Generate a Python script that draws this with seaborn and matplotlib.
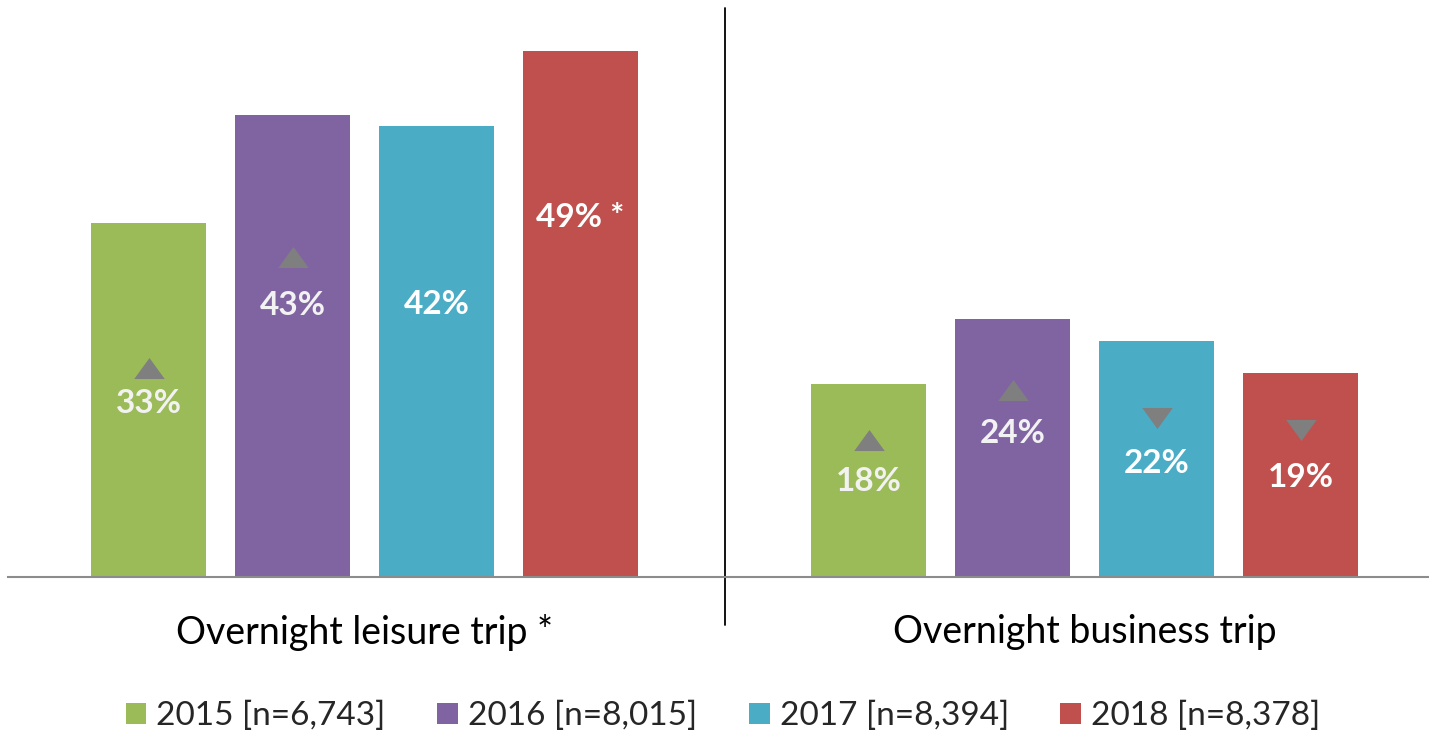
import matplotlib
matplotlib.use("Agg")
import matplotlib.pyplot as plt
import seaborn as sns
import pandas as pd
from matplotlib.patches import Patch

# ---- data ----
trips = ["Overnight leisure trip *", "Overnight business trip"]
years = ["2015 [n=6,743]", "2016 [n=8,015]", "2017 [n=8,394]", "2018 [n=8,378]"]
colors = ["#9BBB59", "#8064A2", "#4BACC6", "#C0504D"]
leisure = [33, 43, 42, 49]
business = [18, 24, 22, 19]
# significance arrows and markers
leisure_arrows = ["up", "up", None, None]
business_arrows = ["up", "up", "down", "down"]
leisure_suffix = ["", "", "", " *"]
business_suffix = ["", "", "", ""]

# label / arrow placement (data units)
leisure_label_y = [16.2, 25.3, 25.4, 33.5]
business_label_y = [8.9, 13.4, 10.6, 9.3]
leisure_arrow_y = [19.5, 29.8, None, None]
business_arrow_y = [12.8, 17.4, 14.8, 13.7]
label_colors = ["#F2F2F2", "#F2F2F2", "#FFFFFF", "#FFFFFF"]

df = pd.DataFrame({
    "trip": [trips[0]] * 4 + [trips[1]] * 4,
    "year": years * 2,
    "value": leisure + business,
})

sns.set_theme(style="white")
plt.rcParams["font.family"] = ["Lato", "DejaVu Sans"]

fig = plt.figure(figsize=(14.29, 7.34), dpi=100)
ax = fig.add_axes([8 / 1429, 0.2139, 1 - 8 / 1429, 0.7752])

sns.barplot(data=df, x="trip", y="value", hue="year", hue_order=years,
            palette=colors, order=trips, width=0.8, gap=0.2, ax=ax,
            legend=False, saturation=1, edgecolor="none")

ax.set_xlim(-0.4955, 1.4785)
ax.set_ylim(0, 53)
ax.set_yticks([])
ax.set_ylabel("")
ax.set_xlabel("")
for s in ["top", "right", "left"]:
    ax.spines[s].set_visible(False)
ax.spines["bottom"].set_color("#8C8C8C")
ax.spines["bottom"].set_linewidth(1.5)
ax.tick_params(axis="x", length=0, pad=27, labelsize=27, labelcolor="black")

# divider
ax.axvline(0.5, ymin=-0.084, ymax=1.0, color="black", lw=1.3, clip_on=False)

up_tri = [(-1.45, -1), (1.45, -1), (0, 1), (-1.45, -1)]
down_tri = [(-1.45, 1), (1.45, 1), (0, -1), (-1.45, 1)]

vals = [leisure, business]
arrows = [leisure_arrows, business_arrows]
suffix = [leisure_suffix, business_suffix]
label_y = [leisure_label_y, business_label_y]
arrow_y = [leisure_arrow_y, business_arrow_y]

for hi, cont in enumerate(ax.containers):
    for ci, bar in enumerate(cont):
        xc = bar.get_x() + bar.get_width() / 2
        ax.text(xc, label_y[ci][hi], f"{vals[ci][hi]}%{suffix[ci][hi]}",
                ha="center", va="center", color=label_colors[hi], fontsize=24,
                fontweight="bold")
        a = arrows[ci][hi]
        if a is not None:
            ax.scatter([xc], [arrow_y[ci][hi]], marker=up_tri if a == "up" else down_tri,
                       s=22 ** 2, color="#7F7F7F", linewidths=0, zorder=5)

handles = [Patch(facecolor=c, edgecolor="none") for c in colors]
fig.legend(handles, years, loc="center", bbox_to_anchor=(0.506, 0.0245), ncol=4,
           frameon=False, fontsize=24, handlelength=0.62, handleheight=0.62,
           handletextpad=0.3, columnspacing=1.55)

fig.savefig("out.png", dpi=100, facecolor="white")
